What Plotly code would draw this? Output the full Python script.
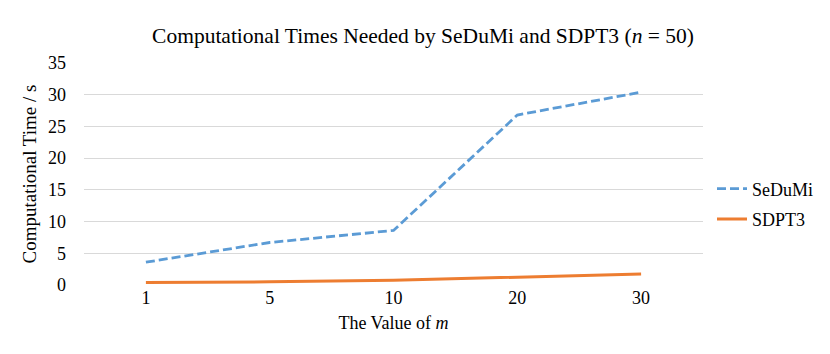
import plotly.graph_objects as go

categories = ["1", "5", "10", "20", "30"]
sedumi = [3.6, 6.7, 8.6, 26.8, 30.4]
sdpt3 = [0.38, 0.5, 0.74, 1.25, 1.73]
y_ticks = [0, 5, 10, 15, 20, 25, 30, 35]

FONT = "Liberation Serif"

fig = go.Figure()
fig.add_trace(go.Scatter(x=categories, y=sedumi, mode="lines", name="SeDuMi",
                         legendgroup="a",
                         line=dict(color="#5B9BD5", width=2.8, dash="9px,4px")))
fig.add_trace(go.Scatter(x=categories, y=sdpt3, mode="lines", name="SDPT3",
                         legendgroup="b",
                         line=dict(color="#ED7D31", width=3)))

fig.update_layout(
    width=830, height=354,
    margin=dict(l=76, r=135, t=55, b=77),
    paper_bgcolor="white", plot_bgcolor="white",
    font=dict(family=FONT, size=18, color="#000000"),
    title=dict(text="Computational Times Needed by SeDuMi and SDPT3 (<i>n</i> = 50)",
               x=0.5, xanchor="center", xref="container", y=1 - 27 / 354, yref="container",
               yanchor="middle",
               font=dict(size=21.5, family=FONT, color="#000000")),
    showlegend=True,
    legend=dict(x=(704 - 76) / 619, xanchor="left", y=(277 - 196) / 222, yanchor="middle",
                font=dict(size=18, family=FONT, color="#000000"), bgcolor="rgba(0,0,0,0)",
                tracegroupgap=4),
    xaxis=dict(type="category", categoryorder="array", categoryarray=categories,
               range=[-0.5, 4.5], showgrid=False, zeroline=False, showline=False,
               ticks="", tickfont=dict(size=18, family=FONT, color="#000000"),
               title=dict(text="The Value of <i>m</i>",
                          font=dict(size=18, family=FONT, color="#000000"), standoff=9)),
    yaxis=dict(range=[0, 35], tickvals=y_ticks, showgrid=True, gridcolor="#D9D9D9",
               gridwidth=1, zeroline=False, showline=False, ticks="",
               ticklabelstandoff=17, tickfont=dict(size=18, family=FONT, color="#000000"),
               title=dict(text="Computational Time / s",
                          font=dict(size=19, family=FONT, color="#000000"), standoff=6)),
)

fig.write_html("out.html")
